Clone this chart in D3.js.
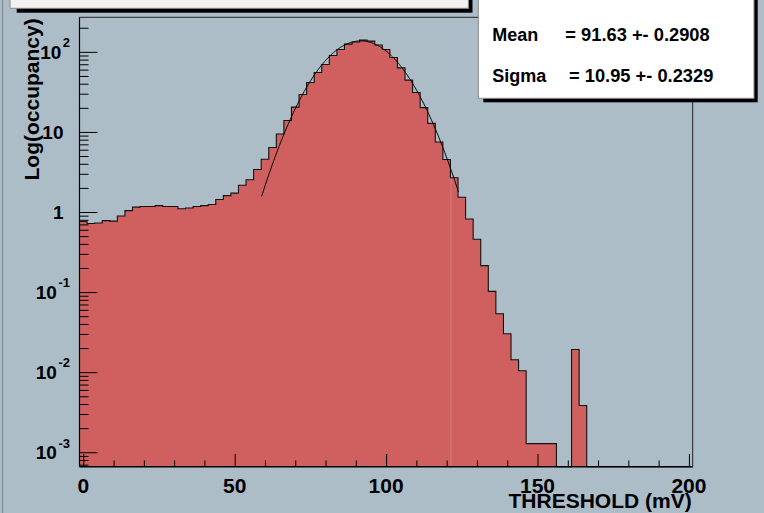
<!DOCTYPE html>
<html>
<head>
<meta charset="utf-8">
<script src="https://cdn.jsdelivr.net/npm/d3@7"></script>
<style>
html,body{margin:0;padding:0;background:#adbdc7;}
svg{display:block;}
text{font-family:"Liberation Sans",Arial,Helvetica,sans-serif;font-weight:bold;fill:#000;}
</style>
</head>
<body>
<svg id="c" width="764" height="513"></svg>
<script>
// ---- data ----
const binWidth = 2.5;
const binCenters = d3.range(0, 200.0001, 2.5); // 81 bins, 0 .. 200 mV
const occupancy = [
  0.76,0.72,0.73,0.78,0.77,0.89,1.04,1.15,1.17,1.17,1.20,1.17,1.17,1.10,1.12,1.17,1.20,1.24,1.43,1.60,1.72,2.16,2.53,3.39,4.56,
  6.38,9.44,13.9,20.4,29.3,41.4,55.3,69.6,90.2,107,125,133,140,136,122,
  107,85.1,63.1,44.3,31.1,20.1,12.8,7.48,4.52,2.68,1.53,0.818,0.456,0.214,0.102,0.0537,0.0302,0.0143,0.0104,
  0.00128,0.00128,0.00128,0.00128,0,0,0.0192,0.00384,
  0,0,0,0,0,0,0,0,0,0,0,0,0,0
];
const xTickLabels = [0, 50, 100, 150, 200];
const xMinorTicks = [10,20,30,40,60,70,80,90,110,120,130,140,160,170,180,190];
const yMajorTicks = [1e-3, 1e-2, 1e-1, 1, 10, 100];
const yTickLabels = [["10","-3"],["10","-2"],["10","-1"],["1",null],["10",null],["10","2"]];
const fitConstant = 137, fitMean = 91.63, fitSigma = 10.95;
const fitRange = [58.9, 124.1];
const statsLines = [["Mean","= 91.63 +- 0.2908"],["Sigma","= 10.95 +- 0.2329"]];
const xTitle = "THRESHOLD (mV)";
const yTitle = "Log(occupancy)";

// ---- layout ----
const L = 79.5, R = 692.7, T = 17.3, B = 466.7;
const svg = d3.select("#c");
const fillCol = "#d05f5f";

const x = d3.scaleLinear().domain([-1.25, 201.25]).range([L, R]);
const y = d3.scaleLog().domain([6.6e-4, 270]).range([B, T]);
const yMin = y.domain()[0];

// canvas left border
svg.append("line").attr("x1",2.5).attr("x2",2.5).attr("y1",0).attr("y2",513)
  .attr("stroke","#7f8d96").attr("stroke-width",1.2);

// histogram
const pts = binCenters.map((c,i)=>[c - binWidth/2, occupancy[i] > 0 ? occupancy[i] : yMin]);
pts.push([binCenters[binCenters.length-1] + binWidth/2, pts[pts.length-1][1]]);
const step = d3.line().x(d=>x(d[0])).y(d=>y(d[1])).curve(d3.curveStepAfter);
const area = d3.area().x(d=>x(d[0])).y0(B).y1(d=>y(d[1])).curve(d3.curveStepAfter);
svg.append("path").attr("d", area(pts)).attr("fill", fillCol);

// faint seam line seen in the picture
svg.append("line").attr("x1", x(binCenters[49]-binWidth/2)+0.5).attr("x2", x(binCenters[49]-binWidth/2)+0.5)
  .attr("y1", y(occupancy[49])).attr("y2", B).attr("stroke","#e0a8a8").attr("stroke-width",0.6).attr("opacity",0.7);

svg.append("path").attr("d", step(pts)).attr("fill","none").attr("stroke","#111").attr("stroke-width",1.1);

// fit curve
const fitX = d3.range(fitRange[0], fitRange[1]+0.001, 0.25);
const gauss = v => fitConstant * Math.exp(-0.5*Math.pow((v-fitMean)/fitSigma,2));
svg.append("path").attr("d", d3.line().x(d=>x(d)).y(d=>y(gauss(d)))(fitX))
  .attr("fill","none").attr("stroke","#000").attr("stroke-width",1);

// axes ticks
const yMinor = [];
for (let e = -4; e <= 2; e++) for (let m = 2; m <= 9; m++) {
  const v = m*Math.pow(10,e); if (v > yMin && v < 270) yMinor.push(v);
}
function styleAxis(g){ g.select(".domain").remove(); g.selectAll("text").remove();
  g.selectAll("line").attr("stroke","#000").attr("stroke-width",1); }
svg.append("g").attr("transform",`translate(${L},0)`)
  .call(d3.axisLeft(y).tickValues(yMinor).tickSizeInner(-9).tickSizeOuter(0)).call(styleAxis);
svg.append("g").attr("transform",`translate(${L},0)`)
  .call(d3.axisLeft(y).tickValues(yMajorTicks).tickSizeInner(-18).tickSizeOuter(0)).call(styleAxis);
svg.append("g").attr("transform",`translate(0,${B})`)
  .call(d3.axisBottom(x).tickValues(xMinorTicks).tickSizeInner(-6.3).tickSizeOuter(0)).call(styleAxis);
svg.append("g").attr("transform",`translate(0,${B})`)
  .call(d3.axisBottom(x).tickValues(xTickLabels).tickSizeInner(-12.7).tickSizeOuter(0)).call(styleAxis);

// frame
svg.append("line").attr("x1",L).attr("x2",R).attr("y1",T).attr("y2",T).attr("stroke","#222").attr("stroke-width",1);
svg.append("line").attr("x1",R).attr("x2",R).attr("y1",T).attr("y2",B).attr("stroke","#222").attr("stroke-width",1);
svg.append("line").attr("x1",L).attr("x2",L).attr("y1",T).attr("y2",B).attr("stroke","#000").attr("stroke-width",1.2);
svg.append("line").attr("x1",L).attr("x2",R).attr("y1",B).attr("y2",B).attr("stroke","#000").attr("stroke-width",1.5);

// x tick labels
svg.append("g").selectAll("text").data(xTickLabels).join("text")
  .attr("x", d=>x(d)).attr("y", 493.3).attr("text-anchor","middle")
  .attr("font-size", 21).text(d=>d);

// y tick labels
const yl = svg.append("g").selectAll("text").data(yMajorTicks).join("text")
  .attr("y", d=>y(d)+6.8).attr("font-size", 19).attr("text-anchor","end")
  .attr("x", (d,i)=> yTickLabels[i][1] ? 70 : 63.5);
yl.each(function(d,i){
  const t = d3.select(this);
  t.append("tspan").text(yTickLabels[i][0]);
  if (yTickLabels[i][1]) t.append("tspan").attr("dx",1.5).attr("dy",-11.5).attr("font-size",13).text(yTickLabels[i][1]);
});

// axis titles
svg.append("text").attr("x", 691.7).attr("y", 507.5).attr("text-anchor","end")
  .attr("font-size", 21).text(xTitle);
svg.append("text").attr("transform","translate(39,18.3) rotate(-90)").attr("text-anchor","end")
  .attr("font-size", 21).text(yTitle);

// title box (cut at top)
svg.append("rect").attr("x",16.7).attr("y",-20).attr("width",455.8).attr("height",32.7).attr("fill","#000");
svg.append("rect").attr("x",10).attr("y",-24).attr("width",458.4).attr("height",32.3)
  .attr("fill","#f1f1f1").attr("stroke","#8a8a8a").attr("stroke-width",1);

// stats box
svg.append("rect").attr("x",483.3).attr("y",-20).attr("width",274.4).attr("height",122.3).attr("fill","#000");
svg.append("rect").attr("x",478.3).attr("y",-24).attr("width",275.7).attr("height",122.3)
  .attr("fill","#fff").attr("stroke","#8a8a8a").attr("stroke-width",1);
const statY = [40.7, 82.3];
const statX2 = [565.3, 569];
statsLines.forEach((s,i)=>{
  svg.append("text").attr("x",492.3).attr("y",statY[i]).attr("font-size",18).text(s[0]);
  svg.append("text").attr("x",statX2[i]).attr("y",statY[i]).attr("font-size",18.3).text(s[1]);
});
</script>
</body>
</html>
